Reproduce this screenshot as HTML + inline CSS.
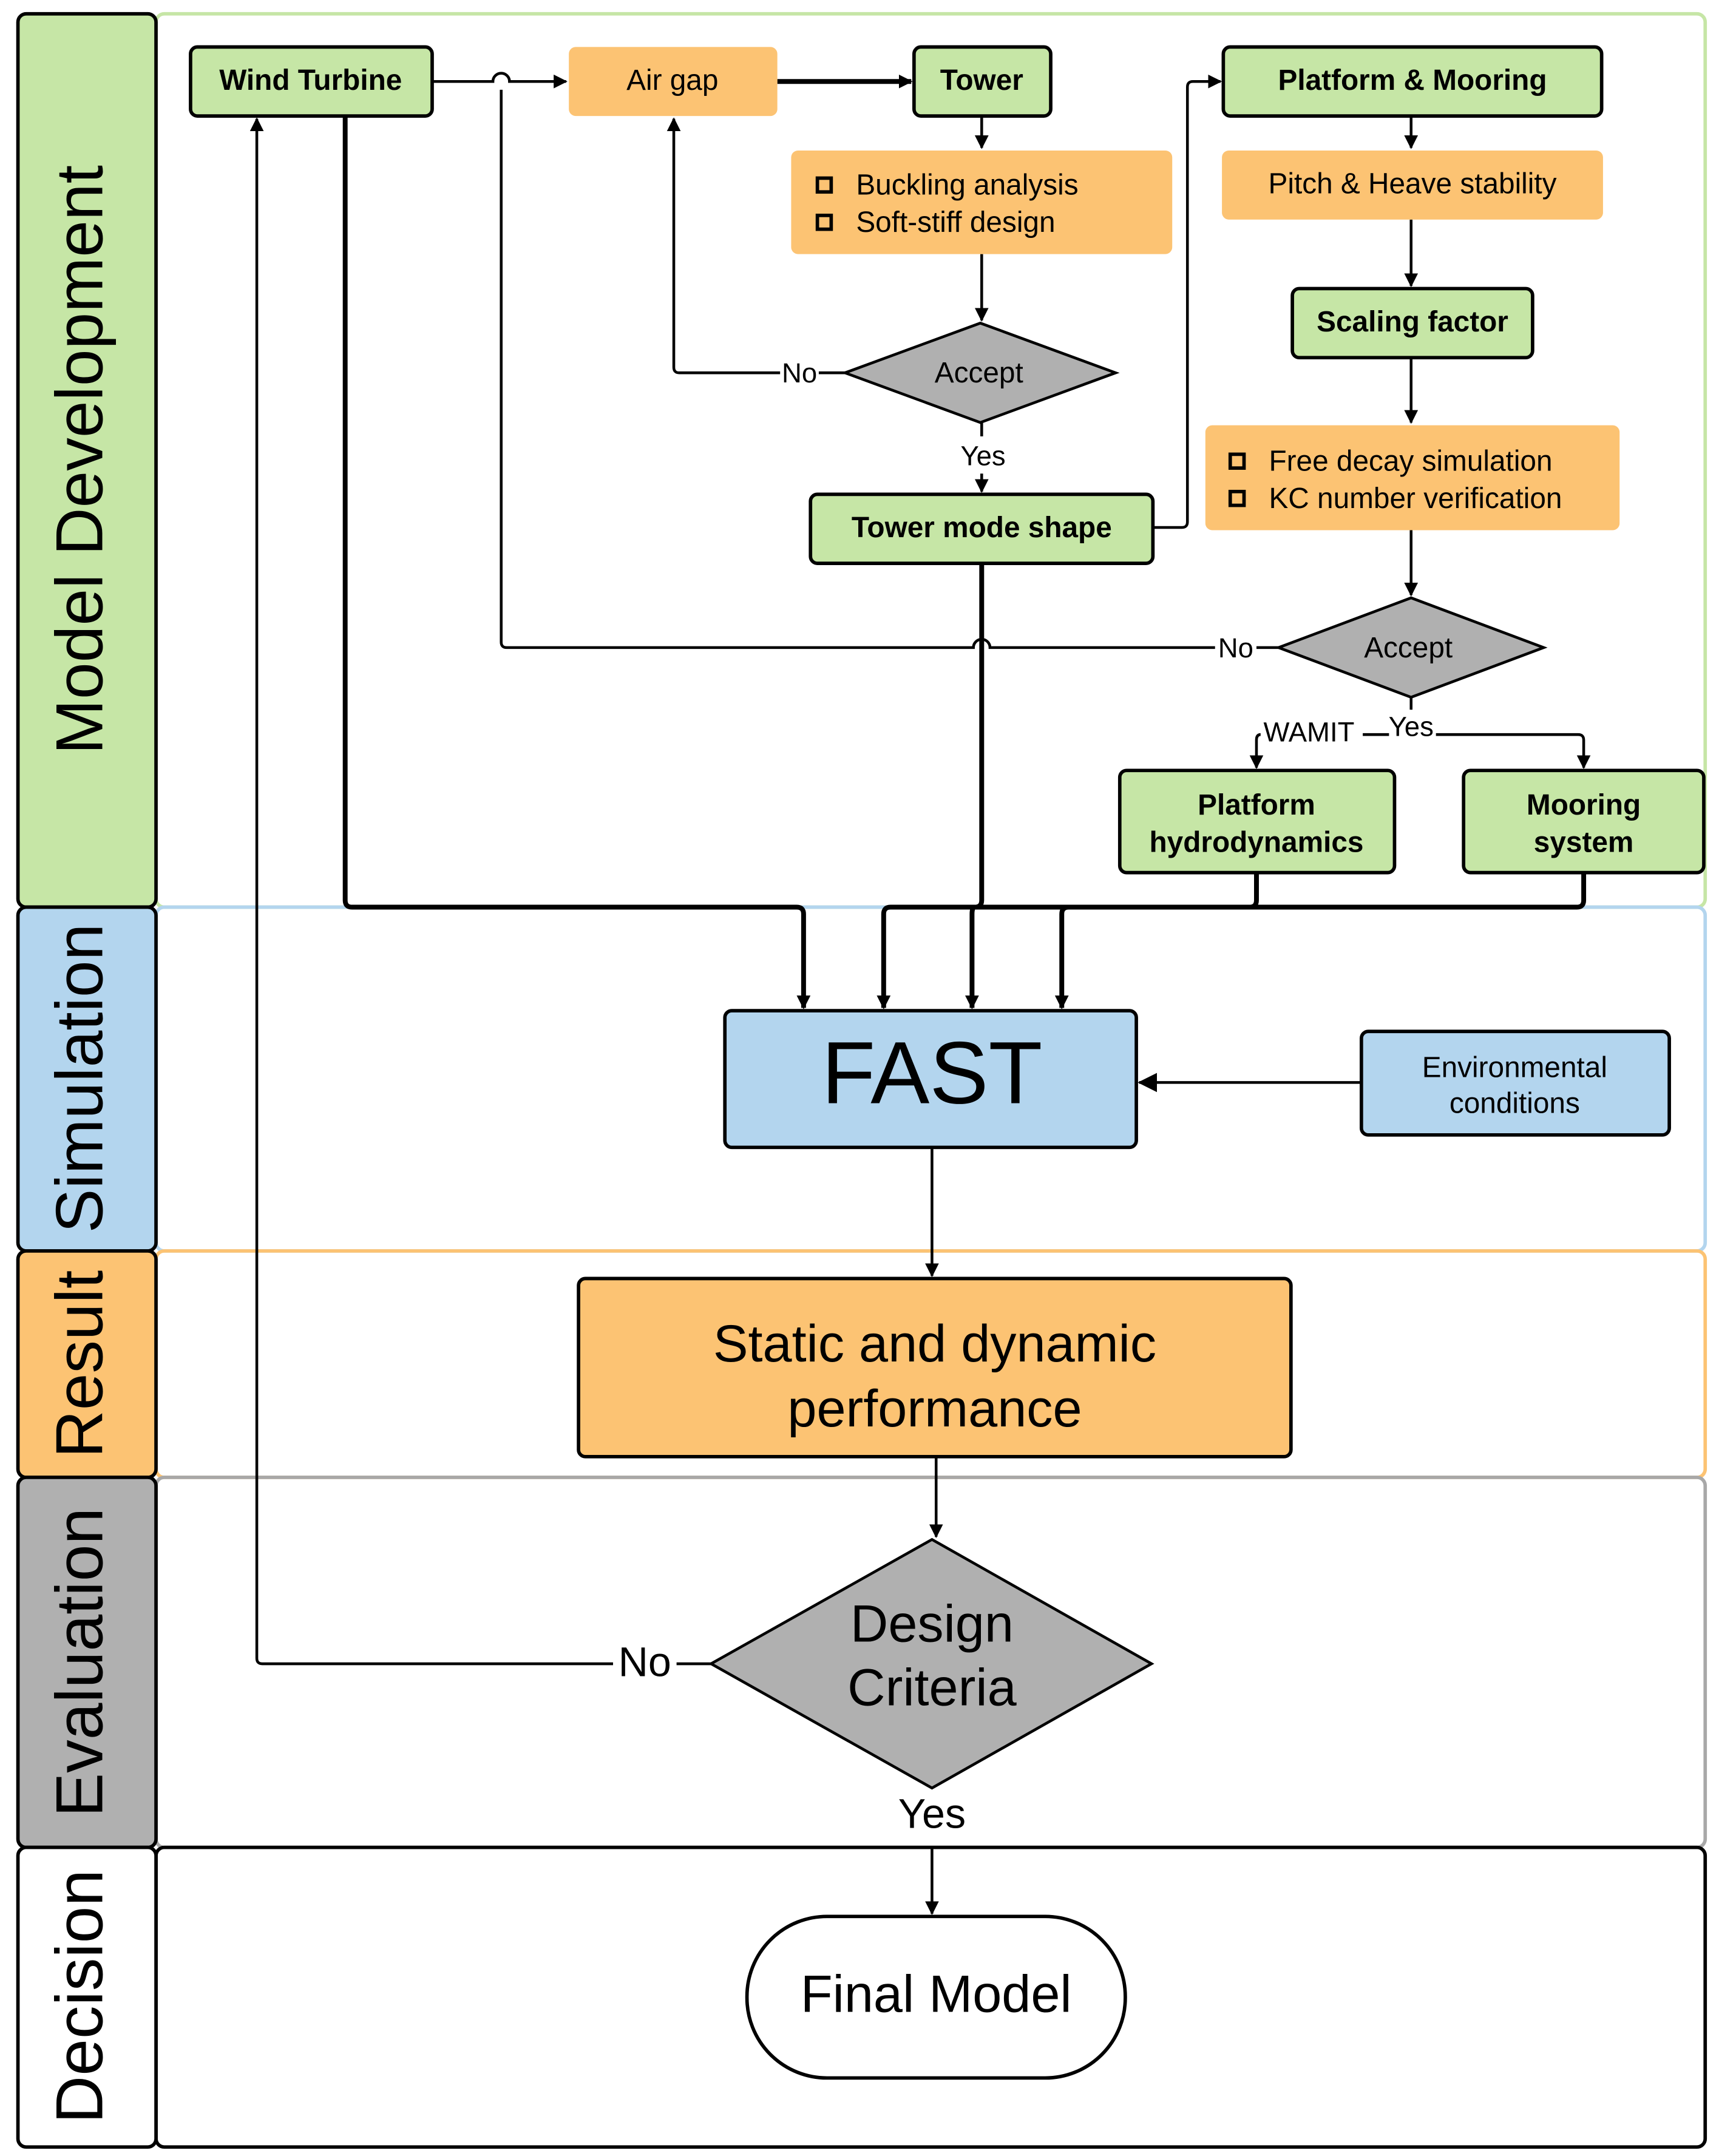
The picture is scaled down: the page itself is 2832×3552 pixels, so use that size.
<!DOCTYPE html>
<html><head><meta charset="utf-8"><style>html,body{margin:0;padding:0;background:#fff}svg{display:block}</style></head>
<body>
<svg xmlns="http://www.w3.org/2000/svg" width="2832" height="3552" viewBox="0 0 1245 1561.5" font-family="Liberation Sans, sans-serif">
<defs>
<marker id="a" markerWidth="10" markerHeight="10" refX="9" refY="5" orient="auto" markerUnits="userSpaceOnUse" viewBox="0 0 10 10"><path d="M0,0 L10,5 L0,10 z" fill="#000"/></marker>
<marker id="b" markerWidth="14" markerHeight="14" refX="13" refY="7" orient="auto" markerUnits="userSpaceOnUse" viewBox="0 0 14 14"><path d="M0,0 L14,7 L0,14 z" fill="#000"/></marker>
</defs>
<rect width="1245" height="1561.5" fill="#fff"/>
<!-- lanes -->
<rect x="113" y="10" width="1122" height="647" rx="6" fill="none" stroke="#c6e6a6" stroke-width="2.5"/>
<rect x="113" y="657" width="1122" height="249" rx="6" fill="none" stroke="#b3d5ee" stroke-width="2.5"/>
<rect x="113" y="906" width="1122" height="164" rx="6" fill="none" stroke="#fcc373" stroke-width="2.5"/>
<rect x="113" y="1070" width="1122" height="268" rx="6" fill="none" stroke="#a8a8a8" stroke-width="2.5"/>
<rect x="113" y="1338" width="1122" height="217" rx="6" fill="none" stroke="#000" stroke-width="2.5"/>
<rect x="13" y="10" width="100" height="647" rx="6" fill="#c6e6a6" stroke="#000" stroke-width="2.5"/>
<rect x="13" y="657" width="100" height="249" rx="6" fill="#b3d5ee" stroke="#000" stroke-width="2.5"/>
<rect x="13" y="906" width="100" height="164" rx="6" fill="#fcc373" stroke="#000" stroke-width="2.5"/>
<rect x="13" y="1070" width="100" height="268" rx="6" fill="#b0b0b0" stroke="#000" stroke-width="2.5"/>
<rect x="13" y="1338" width="100" height="217" rx="6" fill="#fff" stroke="#000" stroke-width="2.5"/>
<g font-size="48" text-anchor="middle" fill="#000">
<text transform="translate(74,333) rotate(-90)">Model Development</text>
<text transform="translate(74,781) rotate(-90)">Simulation</text>
<text transform="translate(74,988) rotate(-90)">Result</text>
<text transform="translate(74,1204) rotate(-90)">Evaluation</text>
<text transform="translate(74,1446) rotate(-90)">Decision</text>
</g>
<!-- connectors -->
<g fill="none" stroke="#000" stroke-width="2">
<path d="M313,59 H357 A6,6 0 0 1 369,59 H410" marker-end="url(#a)"/>
<path d="M563,59 H660" stroke-width="3.5" marker-end="url(#a)"/>
<path d="M711,84 V107" marker-end="url(#a)"/>
<path d="M711,184 V232" marker-end="url(#a)"/>
<path d="M612,270 H593 M565,270 H492 Q488,270 488,266 V86" marker-end="url(#a)"/>
<path d="M711,306 V316 M711,343 V356" marker-end="url(#a)"/>
<path d="M835,382 H856 Q860,382 860,378 V63 Q860,59 864,59 H884" marker-end="url(#a)"/>
<path d="M1022,84 V107" marker-end="url(#a)"/>
<path d="M1022,159 V207" marker-end="url(#a)"/>
<path d="M1022,259 V306" marker-end="url(#a)"/>
<path d="M1022,384 V431" marker-end="url(#a)"/>
<path d="M926,469 H910 M880,469 H717 A6,6 0 0 0 705,469 H367 Q363,469 363,465 V65"/>
<path d="M1022,505 V514"/>
<path d="M1006,532 H987 M1040,532 H1143 Q1147,532 1147,536 V556" marker-end="url(#a)"/>
<path d="M913,532 Q910,532 910,536 V556" marker-end="url(#a)"/>
<path d="M675,831 V924" marker-end="url(#a)"/>
<path d="M678,1055 V1113" marker-end="url(#a)"/>
<path d="M515,1205 H490 M444,1205 H190 Q186,1205 186,1201 V86" marker-end="url(#a)"/>
<path d="M675,1338 V1386" marker-end="url(#a)"/>
<path d="M986,784 H825" marker-end="url(#b)"/>
</g>
<g fill="none" stroke="#000" stroke-width="3.5">
<path d="M250,84 V652 Q250,657 255,657 H577 Q582,657 582,662 V730" marker-end="url(#a)"/>
<path d="M711,408 V652 Q711,657 706,657 Q704,657 704,662 V730" marker-end="url(#a)"/>
<path d="M910,632 V652 Q910,657 905,657 H645 Q640,657 640,662 V730" marker-end="url(#a)"/>
<path d="M1147,632 V652 Q1147,657 1142,657 H774 Q769,657 769,662 V730" marker-end="url(#a)"/>
</g>
<!-- labels -->
<g font-size="20" text-anchor="middle">
<text x="579" y="277">No</text>
<text x="712" y="337">Yes</text>
<text x="895" y="476">No</text>
<text x="1022" y="533">Yes</text>
<text x="948" y="537">WAMIT</text>
</g>
<text x="467" y="1214" font-size="30" text-anchor="middle">No</text>
<text x="675" y="1324" font-size="30" text-anchor="middle">Yes</text>
<!-- nodes -->
<g stroke="#000" stroke-width="2.5">
<rect x="138" y="34" width="175" height="50" rx="5" fill="#c6e6a6"/>
<rect x="662" y="34" width="99" height="50" rx="5" fill="#c6e6a6"/>
<rect x="886" y="34" width="274" height="50" rx="5" fill="#c6e6a6"/>
<rect x="936" y="209" width="174" height="50" rx="5" fill="#c6e6a6"/>
<rect x="587" y="358" width="248" height="50" rx="5" fill="#c6e6a6"/>
<rect x="811" y="558" width="199" height="74" rx="5" fill="#c6e6a6"/>
<rect x="1060" y="558" width="174" height="74" rx="5" fill="#c6e6a6"/>
<rect x="525" y="732" width="298" height="99" rx="5" fill="#b3d5ee"/>
<rect x="986" y="747" width="223" height="75" rx="5" fill="#b3d5ee"/>
<rect x="419" y="926" width="516" height="129" rx="5" fill="#fcc373"/>
<rect x="541" y="1388" width="274" height="117" rx="58" fill="#fff"/>
<polygon points="612,270 710,234 808,270 710,306" fill="#b0b0b0" stroke-width="2"/>
<polygon points="926,469 1022,433 1118,469 1022,505" fill="#b0b0b0" stroke-width="2"/>
<polygon points="515,1205 675,1115 834,1205 675,1295" fill="#b0b0b0" stroke-width="2"/>
</g>
<g fill="#fcc373">
<rect x="412" y="34" width="151" height="50" rx="5"/>
<rect x="573" y="109" width="276" height="75" rx="5"/>
<rect x="885" y="109" width="276" height="50" rx="5"/>
<rect x="873" y="308" width="300" height="76" rx="5"/>
</g>
<g font-size="21" font-weight="bold" text-anchor="middle">
<text x="225" y="65">Wind Turbine</text>
<text x="711" y="65">Tower</text>
<text x="1023" y="65">Platform &amp; Mooring</text>
<text x="1023" y="240">Scaling factor</text>
<text x="711" y="389">Tower mode shape</text>
<text x="910" y="590">Platform</text>
<text x="910" y="617">hydrodynamics</text>
<text x="1147" y="590">Mooring</text>
<text x="1147" y="617">system</text>
</g>
<g font-size="21" text-anchor="middle">
<text x="487" y="65">Air gap</text>
<text x="1023" y="140">Pitch &amp; Heave stability</text>
<text x="709" y="277">Accept</text>
<text x="1020" y="476">Accept</text>
<text x="1097" y="780">Environmental</text>
<text x="1097" y="806">conditions</text>
</g>
<g font-size="21">
<text x="620" y="141">Buckling analysis</text>
<text x="620" y="168">Soft-stiff design</text>
<text x="919" y="341">Free decay simulation</text>
<text x="919" y="368">KC number verification</text>
</g>
<g fill="none" stroke="#000" stroke-width="2.5">
<rect x="592" y="129" width="10" height="10"/>
<rect x="592" y="156" width="10" height="10"/>
<rect x="891" y="329" width="10" height="10"/>
<rect x="891" y="356" width="10" height="10"/>
</g>
<text x="675" y="799" font-size="64" text-anchor="middle">FAST</text>
<text x="677" y="986" font-size="38" text-anchor="middle">Static and dynamic</text>
<text x="677" y="1033" font-size="38" text-anchor="middle">performance</text>
<text x="675" y="1189" font-size="38" text-anchor="middle">Design</text>
<text x="675" y="1235" font-size="38" text-anchor="middle">Criteria</text>
<text x="678" y="1457" font-size="38" text-anchor="middle">Final Model</text>
</svg>
</body></html>
